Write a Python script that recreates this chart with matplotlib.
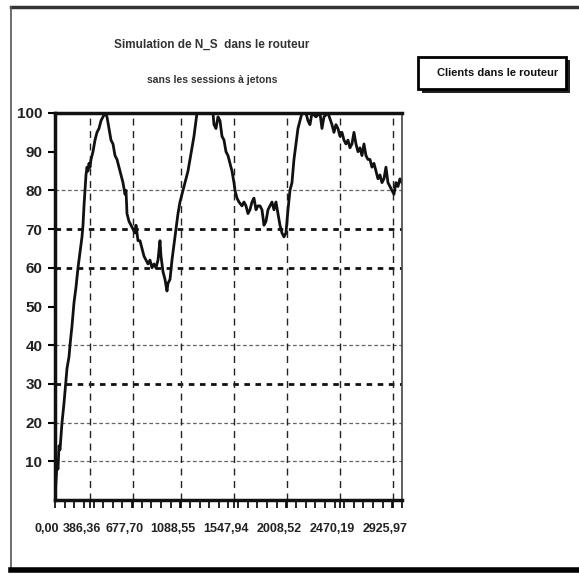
import matplotlib.pyplot as plt
from matplotlib.patches import Rectangle
from matplotlib.lines import Line2D
from matplotlib.transforms import blended_transform_factory
import numpy as np

plt.rcParams['font.family'] = ['Liberation Sans', 'DejaVu Sans']

# Data: sample index along the category axis, clients in router
sample = [0, 1, 2, 3, 4, 5, 7, 9, 11, 12, 14, 15, 17, 19, 21, 23, 25, 27, 28, 29,
          30, 31, 32, 33, 34, 35, 36, 38, 40, 42, 44, 46, 48, 50, 52, 54, 56, 58, 60, 62,
          64, 66, 68, 70, 71, 72, 74, 76, 78, 80, 81, 83, 85, 87, 89, 91, 93, 95, 97, 99,
          101, 103, 105, 106, 108, 110, 112, 113, 115, 117, 119, 121, 123, 125, 127, 129,
          131, 133, 135, 137, 139, 141, 142, 158, 159, 161, 163, 165, 167, 169, 171, 173,
          175, 177, 179, 180, 182, 184, 187, 189, 191, 193, 195, 197, 199, 201, 203, 205,
          207, 209, 211, 213, 215, 217, 219, 221, 223, 225, 227, 229, 231, 233, 235, 237,
          239, 241, 243, 245, 247, 251, 253, 255, 257, 261, 265, 267, 269, 273, 277, 279,
          281, 283, 285, 287, 289, 291, 293, 295, 297, 299, 301, 303, 305, 307, 309, 311,
          313, 315, 317, 319, 321, 323, 325, 327, 329, 331, 333, 335, 337, 339, 341, 343,
          345, 347]
clients = [0, 5, 9, 8, 14, 13, 20, 25, 31, 34, 37, 40, 45, 51, 55, 60, 64, 68, 71, 76,
           80, 84, 86, 85, 87, 86, 88, 90, 93, 95, 96, 98, 99, 100, 99, 96, 93, 92, 89, 88,
           86, 84, 82, 79, 80, 74, 72, 71, 70, 69, 71, 67, 67, 65, 63, 62, 61, 62, 60, 61,
           60, 62, 67, 63, 59, 57, 54, 56, 57, 62, 66, 70, 74, 77, 79, 81,
           83, 85, 88, 91, 94, 98, 100, 100, 97, 96, 99, 98, 94, 93, 90, 89,
           87, 85, 82, 80, 78, 77, 76, 77, 76, 74, 75, 77, 78, 75, 76, 76,
           75, 71, 72, 75, 76, 77, 75, 77, 74, 71, 69, 68, 69, 75, 80, 82,
           88, 92, 96, 98, 100, 100, 98, 97, 100, 99, 100, 96, 99, 100, 97, 95,
           97, 96, 94, 95, 93, 92, 93, 91, 92, 95, 92, 90, 91, 89, 92, 89,
           88, 88, 86, 87, 85, 83, 84, 82, 83, 86, 82, 81, 80, 79, 82, 81,
           83, 82]

tick_samples = [0, 35, 78, 126, 179, 232, 285, 338]
tick_labels = ['0,00', '386,36', '677,70', '1088,55', '1547,94', '2008,52', '2470,19', '2925,97']
y_ticks = [10, 20, 30, 40, 50, 60, 70, 80, 90, 100]
light_grid = [10, 20, 40, 80]
bold_grid = [30, 60, 70]

title1 = 'Simulation de N_S  dans le routeur'
title2 = 'sans les sessions à jetons'
legend_label = 'Clients dans le routeur'

W, H = 579, 574
fig = plt.figure(figsize=(W / 100, H / 100), dpi=100)
fig.patch.set_facecolor('white')

# outer frame of the scanned page
fig.add_artist(Line2D([11 / W, 1], [1 - 7 / H, 1 - 7 / H], color='#333333', lw=2.5))
fig.add_artist(Line2D([11 / W, 11 / W], [1 - 7 / H, 1 - 570 / H], color='#555555', lw=1.2))
fig.add_artist(Line2D([11 / W, 1], [1 - 570 / H, 1 - 570 / H], color='black', lw=4))

ax = fig.add_axes([55 / W, 74 / H, 347 / W, 387 / H])
ax.plot(sample, clients, color='#111111', lw=2.0)

ax.set_xlim(0, 347)
ax.set_ylim(0, 100)

for v in light_grid:
    ax.axhline(v, color='#666666', lw=0.9, ls=(0, (3, 2)), zorder=0)
for v in bold_grid:
    ax.axhline(v, color='#111111', lw=2.0, ls=(0, (2, 2)), zorder=0)
for s in tick_samples[1:]:
    ax.axvline(s, color='#222222', lw=1.0, ls=(0, (5, 4)), zorder=0)

ax.set_yticks(y_ticks)
ax.set_yticklabels([str(v) for v in y_ticks], fontsize=11, fontweight='bold', color='#222222')
ax.set_xticks(tick_samples)
ax.set_xticklabels([])
ax.set_xticks(np.arange(0, 348, 9.64), minor=True)
ax.tick_params(axis='y', direction='out', length=5, width=1.5, pad=4)
ax.tick_params(axis='x', which='both', direction='out', length=6, width=1.2)

# category labels sit a little left of their gridlines, as in the original
trans = blended_transform_factory(ax.transData, ax.transAxes)
for s, lab in zip(tick_samples, tick_labels):
    ax.text(s - 8, -0.075, lab, transform=trans, ha='center', va='center',
            fontsize=9, fontweight='bold', color='#222222')

for side in ['left', 'bottom', 'top']:
    ax.spines[side].set_linewidth(2.5)
    ax.spines[side].set_color('#111111')
ax.spines['right'].set_linewidth(1.2)
ax.spines['right'].set_color('#444444')

fig.text(212 / W, 1 - 45 / H, title1, ha='center', va='center', fontsize=8.5,
         fontweight='bold', color='#333333')
fig.text(212 / W, 1 - 80 / H, title2, ha='center', va='center', fontsize=7.5,
         fontweight='bold', color='#333333')

# legend box with drop shadow
fig.add_artist(Rectangle((422 / W, 1 - 93 / H), 148 / W, 33 / H, facecolor='#222222',
                         edgecolor='none', transform=fig.transFigure))
fig.add_artist(Rectangle((418 / W, 1 - 89 / H), 148 / W, 32 / H, facecolor='white',
                         edgecolor='black', lw=2, transform=fig.transFigure))
fig.text(498 / W, 1 - 73 / H, legend_label, ha='center', va='center', fontsize=8,
         fontweight='bold', color='#111111')

fig.savefig('out.png', dpi=100)
